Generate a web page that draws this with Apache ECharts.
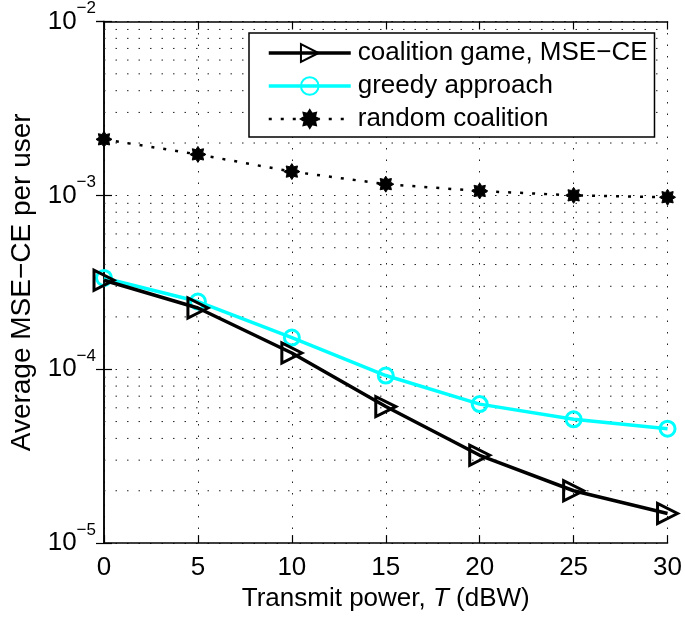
<!DOCTYPE html>
<html>
<head>
<meta charset="utf-8">
<script src="https://cdn.jsdelivr.net/npm/echarts@6/dist/echarts.min.js"></script>
<style>html,body{margin:0;padding:0;background:#fff;}#c{width:685px;height:617px;}</style>
</head>
<body>
<div id="c"></div>
<script>
var powers = [0, 5, 10, 15, 20, 25, 30];
var coalitionMSE = [3.25e-4, 2.25e-4, 1.24e-4, 6.1e-5, 3.2e-5, 2.0e-5, 1.48e-5];
var greedyMSE = [3.35e-4, 2.45e-4, 1.52e-4, 9.2e-5, 6.3e-5, 5.15e-5, 4.55e-5];
var randomMSE = [2.1e-3, 1.72e-3, 1.37e-3, 1.16e-3, 1.06e-3, 1.0e-3, 0.975e-3];
var seriesNames = ['coalition game, MSE\u2212CE', 'greedy approach', 'random coalition'];
var xTicks = [0, 5, 10, 15, 20, 25, 30];
var yMin = 1e-5, yMax = 1e-2;
var minorMultipliers = [2, 3, 4, 5, 6, 7, 8, 9];
var decades = [1e-5, 1e-4, 1e-3];

var FONT = 'Liberation Sans, Arial, Helvetica, sans-serif';
var FS = 26;
function gridStyle() { return {color: '#222', width: 1, type: [1.5, 10]}; }

function pairs(ys) { return powers.map(function (x, i) { return [x, ys[i]]; }); }

var minorValues = [];
decades.forEach(function (d) {
  minorMultipliers.forEach(function (m) { minorValues.push(d * m); });
});
var minorSeries = minorValues.map(function (v) {
  return {
    type: 'line', data: [[xTicks[0], v], [xTicks[xTicks.length - 1], v]],
    symbol: 'none', silent: true, z: 1, legendHoverLink: false,
    lineStyle: gridStyle(), tooltip: {show: false}
  };
});

var starPath = 'path://M20 10 L16 12.49 L17.07 17.07 L12.49 16 L10 20 L7.51 16 L2.93 17.07 L4 12.49 L0 10 L4 7.51 L2.93 2.93 L7.51 4 L10 0 L12.49 4 L17.07 2.93 L16 7.51 Z';

var chart = echarts.init(document.getElementById('c'), null, {renderer: 'canvas'});
var yLabel = {
  show: true, margin: 8, color: '#000', fontFamily: FONT,
  formatter: function (v) {
    var e = Math.round(Math.log10(v));
    return '{b|10}{s|\u2212' + Math.abs(e) + '}';
  },
  rich: {
    b: {fontSize: FS, fontFamily: FONT, color: '#000'},
    s: {fontSize: 17, fontFamily: FONT, color: '#000', verticalAlign: 'top', padding: [0, 0, 26, 0]}
  }
};
var option = {
  backgroundColor: '#fff',
  animation: false,
  textStyle: {fontFamily: FONT},
  grid: {left: 95, right: 15, top: 19, bottom: 69, containLabel: false},
  xAxis: [{
    type: 'value', min: 0, max: 30, interval: 5, position: 'bottom',
    name: 'Transmit power, {i|T} (dBW)', nameLocation: 'middle', nameGap: 40,
    nameTextStyle: {fontSize: FS, color: '#000', fontFamily: FONT,
      rich: {i: {fontSize: FS, fontStyle: 'italic', color: '#000', fontFamily: FONT}}},
    axisLine: {show: true, lineStyle: {color: '#000', width: 1.5}},
    axisTick: {show: true, inside: true, length: 8, lineStyle: {color: '#000', width: 1.2}},
    axisLabel: {show: true, fontSize: FS, color: '#000', margin: 12, fontFamily: FONT,
      formatter: function (v) { return xTicks.indexOf(v) >= 0 ? String(v) : ''; }},
    splitLine: {show: true, lineStyle: gridStyle()}
  }, {
    type: 'value', min: 0, max: 30, interval: 5, position: 'top',
    axisLine: {show: true, lineStyle: {color: '#000', width: 1.5}},
    axisTick: {show: true, inside: true, length: 8, lineStyle: {color: '#000', width: 1.2}},
    axisLabel: {show: false}, splitLine: {show: false}
  }],
  yAxis: [{
    type: 'log', logBase: 10, min: yMin, max: yMax, position: 'left',
    name: 'Average MSE\u2212CE per user', nameLocation: 'middle', nameGap: 68,
    nameTextStyle: {fontSize: 28, color: '#000', fontFamily: FONT},
    axisLine: {show: true, lineStyle: {color: '#000', width: 1.5}},
    axisTick: {show: true, inside: true, length: 8, lineStyle: {color: '#000', width: 1.2}},
    axisLabel: yLabel,
    splitLine: {show: true, lineStyle: gridStyle()}
  }, {
    type: 'log', logBase: 10, min: yMin, max: yMax, position: 'right',
    axisLine: {show: true, lineStyle: {color: '#000', width: 1.5}},
    axisTick: {show: true, inside: true, length: 8, lineStyle: {color: '#000', width: 1.2}},
    axisLabel: {show: false}, splitLine: {show: false}
  }],
  legend: {
    orient: 'vertical', left: 249, top: 33,
    padding: [7, 7, 5, 18], itemGap: 7, itemWidth: 82, itemHeight: 22,
    backgroundColor: '#fff', borderColor: '#000', borderWidth: 1.5, borderRadius: 0,
    textStyle: {fontSize: FS, color: '#000', fontFamily: FONT, padding: [0, 0, 0, 2]},
    data: [
      {name: seriesNames[0], lineStyle: {width: 3.5}},
      {name: seriesNames[1], lineStyle: {width: 3.5}},
      {name: seriesNames[2], lineStyle: {width: 2.5}}
    ]
  },
  series: minorSeries.concat([{
    name: seriesNames[2], type: 'line', data: pairs(randomMSE), clip: false, z: 3,
    symbol: starPath, symbolSize: 16,
    lineStyle: {color: '#000', width: 2.5, type: [3, 9]},
    itemStyle: {color: '#000', borderColor: '#000', borderWidth: 1}
  }, {
    name: seriesNames[1], type: 'line', data: pairs(greedyMSE), clip: false, z: 4,
    symbol: 'circle', symbolSize: 15,
    lineStyle: {color: '#00ffff', width: 3.5},
    itemStyle: {color: 'rgba(0,0,0,0)', borderColor: '#00ffff', borderWidth: 3}
  }, {
    name: seriesNames[0], type: 'line', data: pairs(coalitionMSE), clip: false, z: 5,
    symbol: 'triangle', symbolSize: [20, 20], symbolRotate: -90,
    lineStyle: {color: '#000', width: 3.5},
    itemStyle: {color: 'rgba(0,0,0,0)', borderColor: '#000', borderWidth: 3}
  }])
};
chart.setOption(option);
</script>
</body>
</html>
